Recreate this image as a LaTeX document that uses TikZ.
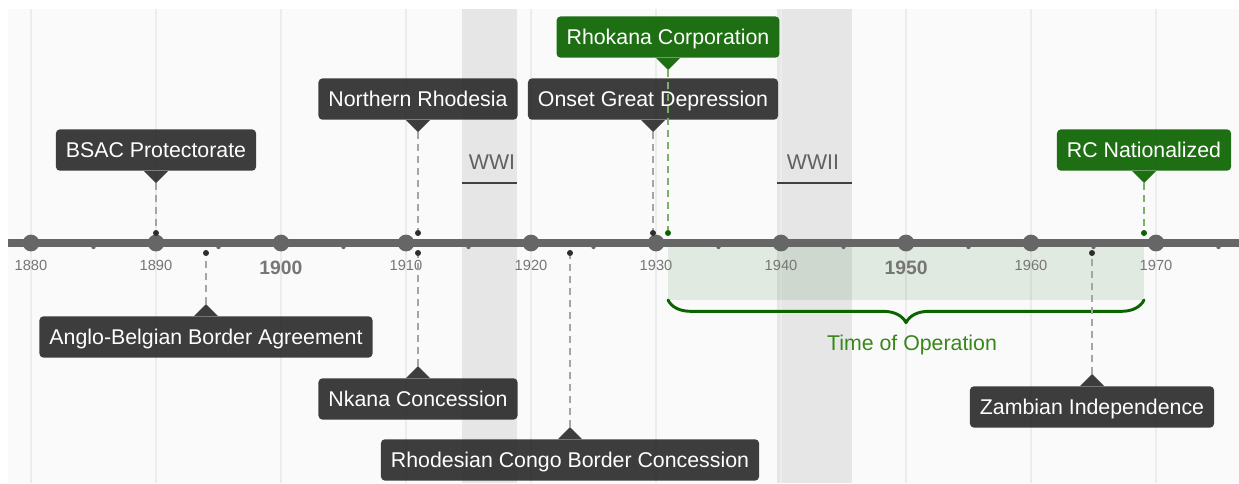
\documentclass[tikz,border=0pt]{standalone}
\usepackage{fontspec}
\setmainfont{Liberation Sans}
\usetikzlibrary{decorations.pathreplacing}
\definecolor{panel}{RGB}{250,250,250}
\definecolor{gridgray}{RGB}{236,236,236}
\definecolor{bandgray}{RGB}{230,230,230}
\definecolor{axisgray}{RGB}{102,102,102}
\definecolor{yeargray}{RGB}{118,118,118}
\definecolor{boxdark}{RGB}{45,45,45}
\definecolor{boxgreen}{RGB}{12,100,0}
\definecolor{linegreen}{RGB}{120,178,100}
\definecolor{textgreen}{RGB}{55,135,25}
\definecolor{dashgray}{RGB}{165,165,165}
\begin{document}
\begin{tikzpicture}[x=0.75pt, y=-0.75pt, line join=round, line cap=round, font=\fontsize{16}{19}\selectfont]
\tikzset{
  eventbox/.style={rounded corners=3pt, text=white, fill opacity=0.92, text opacity=1,
    inner xsep=7.5pt, inner ysep=0pt, minimum height=31pt, text height=12.7pt, text depth=1.3pt},
  evdot/.style={circle, inner sep=0pt, minimum size=4.5pt},
  evline/.style={line width=2.2pt, line cap=butt, dash pattern=on 5.5pt off 3.5pt},
  yearlabel/.style={text=yeargray, font=\fontsize{11}{13}\selectfont},
  bigyear/.style={text=yeargray, font=\fontsize{14.5}{17}\selectfont\bfseries},
  warlabel/.style={text=black!62}
}
\fill[white] (0,0) rectangle (1239,483);
\fill[panel] (8,9) rectangle (1239,483);
\useasboundingbox (0,0) rectangle (1239,483);
\fill[bandgray] (462,9) rectangle (517,483);
\fill[bandgray] (777,9) rectangle (852,483);
\foreach \xx in {31,156,...,1156}
  \draw[gridgray, line width=1.2pt, line cap=butt] (\xx,9) -- (\xx,483);
\node[warlabel] (wwi) at (492,162) {WWI};
\node[warlabel] (wwii) at (813,162) {WWII};
\draw[black!75, line width=2.2pt, line cap=butt] (462,183) -- (517,183);
\draw[black!75, line width=2.2pt, line cap=butt] (777,183) -- (852,183);
\fill[boxgreen, fill opacity=0.1] (668,247) rectangle (1144,300);
\coordinate (op-l) at (668,300);
\coordinate (op-r) at (1144,300);
\draw[boxgreen, line width=2.2pt, decorate, decoration={brace, mirror, amplitude=17pt}] (op-l) -- (op-r);
\node[text=textgreen] (op-label) at (912,345) {Time of Operation};
\draw[axisgray, line width=5.6pt, line cap=butt] (8,243) -- (1239,243);
\foreach \xx in {93.5,218.5,...,1218.5}
  \fill[axisgray] (\xx,247) circle (1.6pt);
\foreach \yr [evaluate=\yr as \xx using {31+(\yr-1880)*12.5}] in {1880,1890,...,1970}
  \fill[axisgray] (\xx,243) circle (6.3pt);
\foreach \yr [evaluate=\yr as \xx using {31+(\yr-1880)*12.5}] in {1880,1890,1910,1920,1930,1940,1960,1970}
  \node[yearlabel] (yr-\yr) at (\xx,265) {\yr};
\foreach \yr [evaluate=\yr as \xx using {31+(\yr-1880)*12.5}] in {1900,1950}
  \node[bigyear] (yr-\yr) at (\xx,267.5) {\yr};
\foreach \nm/\xx/\by/\col/\lcol/\txt in {bsac/156/171/boxdark/dashgray/BSAC Protectorate,
    nrhod/418/120/boxdark/dashgray/Northern Rhodesia,
    onset/653/120/boxdark/dashgray/Onset Great Depression,
    rhokana/668/58/boxgreen/linegreen/Rhokana Corporation,
    rcnat/1144/171/boxgreen/linegreen/RC Nationalized}{
  \node[evdot, fill=\col] (\nm-dot) at (\xx,233) {};
  \node[eventbox, fill=\col, anchor=south] (\nm) at (\xx,\by) {\txt};
  \coordinate (\nm-tip) at ([yshift=-9pt]\nm.south);
  \fill[\col, fill opacity=0.92] ([xshift=-9pt]\nm.south) -- ([xshift=9pt]\nm.south) -- (\nm-tip) -- cycle;
  \draw[evline, \lcol] (\nm-tip) -- (\nm-dot);
}
\foreach \nm/\xx/\by/\col/\lcol/\txt in {anglo/206/316/boxdark/dashgray/Anglo-Belgian Border Agreement,
    nkana/418/378/boxdark/dashgray/Nkana Concession,
    rcbc/570/439/boxdark/dashgray/Rhodesian Congo Border Concession,
    zambia/1092/386/boxdark/dashgray/Zambian Independence}{
  \node[evdot, fill=\col] (\nm-dot) at (\xx,253) {};
  \node[eventbox, fill=\col, anchor=north] (\nm) at (\xx,\by) {\txt};
  \coordinate (\nm-tip) at ([yshift=9pt]\nm.north);
  \fill[\col, fill opacity=0.92] ([xshift=-9pt]\nm.north) -- ([xshift=9pt]\nm.north) -- (\nm-tip) -- cycle;
  \draw[evline, \lcol] (\nm-tip) -- (\nm-dot);
}
\end{tikzpicture}
\end{document}
